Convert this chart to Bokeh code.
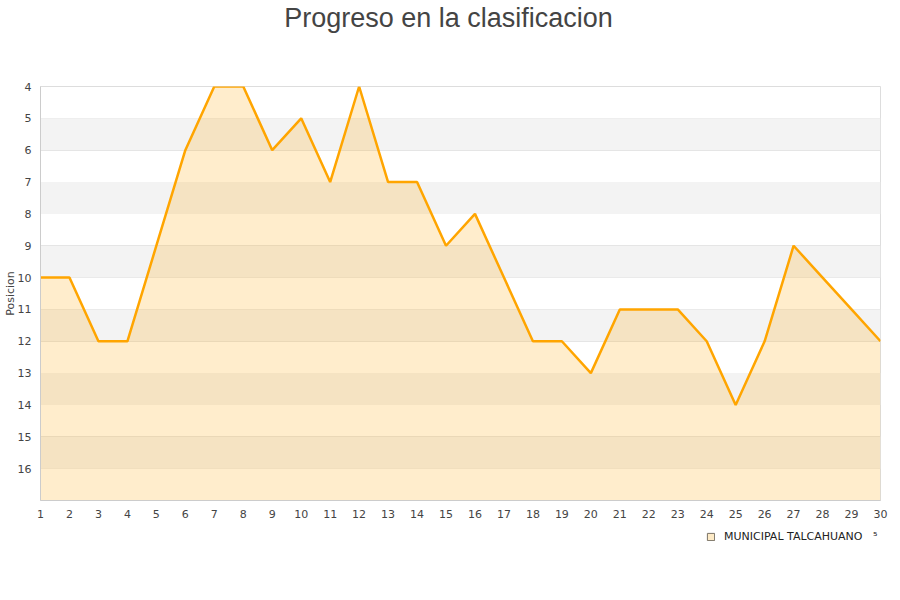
from bokeh.plotting import figure
from bokeh.layouts import column
from bokeh.models import (Range1d, FixedTicker, BoxAnnotation, Legend, LegendItem, Label)
from bokeh.embed import file_html
from bokeh.resources import INLINE

jornadas = list(range(1, 31))
posicion = [10, 10, 12, 12, 9, 6, 4, 4, 6, 5, 7, 4, 7, 7, 9, 8, 10, 12, 12, 13,
            11, 11, 11, 12, 14, 12, 9, 10, 11, 12]
y_ticks = list(range(4, 17))
team = "MUNICIPAL TALCAHUANO"
legend_label = team + "   \u2075"
title = "Progreso en la clasificacion"

Y_TOP, Y_BOTTOM = 4, 17
W = 890
FRAME_L, FRAME_R = 40, 880


def blank(h):
    # frames of a column are aligned with the chart frame (x 40..880)
    f = figure(width=W, height=h, output_backend="svg", toolbar_location=None,
               x_range=Range1d(FRAME_L, FRAME_R), y_range=Range1d(0, h),
               min_border=0, min_border_left=0, min_border_right=0,
               min_border_top=0, min_border_bottom=0)
    f.xaxis.visible = False
    f.yaxis.visible = False
    f.grid.visible = False
    f.outline_line_color = None
    f.background_fill_color = "white"
    f.border_fill_color = "white"
    return f


# header with title
head = blank(75)
head.add_layout(Label(x=448, y=57.5, text=title, text_align="center",
                      text_baseline="middle", text_font="Liberation Sans",
                      text_font_size="27px", text_color="#444444"))

# main chart
p = figure(width=W, height=455, output_backend="svg", toolbar_location=None,
           x_range=Range1d(1, 30), y_range=Range1d(Y_BOTTOM, Y_TOP),
           min_border_left=40, min_border_right=10, min_border_top=11,
           min_border_bottom=30)
p.background_fill_color = "white"
p.border_fill_color = "white"
p.outline_line_color = "#dddddd"

for v in range(5, 17, 2):
    p.add_layout(BoxAnnotation(bottom=v, top=v + 1, fill_color="#f3f3f3",
                               fill_alpha=1.0, line_alpha=0, level="underlay"))

p.xgrid.visible = False
p.ygrid.ticker = FixedTicker(ticks=y_ticks)
p.ygrid.grid_line_color = "#e0e0e0"
p.ygrid.grid_line_width = 1

p.varea(x=jornadas, y1=posicion, y2=[Y_BOTTOM] * len(jornadas),
        fill_color="#FFA500", fill_alpha=0.2)
p.line(jornadas, posicion, line_color="#FFA500", line_width=2.5)

for ax in (p.xaxis[0], p.yaxis[0]):
    ax.axis_line_color = "#cccccc"
    ax.major_tick_line_color = None
    ax.minor_tick_line_color = None
    ax.major_tick_out = 0
    ax.major_tick_in = 0
    ax.minor_tick_out = 0
    ax.minor_tick_in = 0
    ax.major_label_text_font = "DejaVu Sans"
    ax.major_label_text_font_size = "11px"
    ax.major_label_text_color = "#444444"
    ax.major_label_standoff = 9

p.xaxis.ticker = FixedTicker(ticks=jornadas)
p.yaxis.ticker = FixedTicker(ticks=y_ticks)
p.yaxis.axis_label = "Posicion"
p.yaxis.axis_label_text_font = "DejaVu Sans"
p.yaxis.axis_label_text_font_size = "11px"
p.yaxis.axis_label_text_font_style = "normal"
p.yaxis.axis_label_text_color = "#444444"
p.yaxis.axis_label_standoff = -2

# footer with legend
foot = blank(54)
sw = foot.quad(left=[-10], right=[-9], bottom=[-10], top=[-9],
               fill_color="#FDEAC6", line_color="#7a7366", line_width=1)
legend = Legend(items=[LegendItem(label=legend_label, renderers=[sw])],
                location=(666, 41), padding=0, spacing=0, margin=0,
                glyph_width=9, glyph_height=9, label_height=9,
                label_standoff=9, label_text_font="DejaVu Sans",
                label_text_font_size="11px", label_text_color="#222222",
                border_line_alpha=0, background_fill_alpha=0)
foot.add_layout(legend, "center")

layout = column(head, p, foot, spacing=0)
open("out.html", "w").write(file_html(layout, INLINE))
